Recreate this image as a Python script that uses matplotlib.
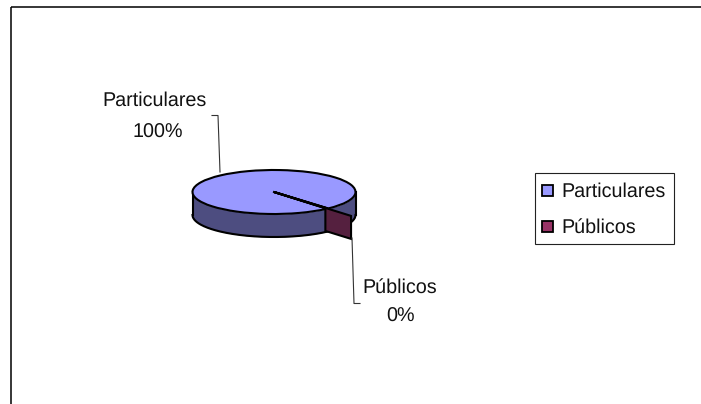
import numpy as np
import matplotlib
matplotlib.use("Agg")
import matplotlib.pyplot as plt
from matplotlib.patches import Rectangle, Polygon

categories = ["Particulares", "Públicos"]
values = [99.7, 0.3]
pct_labels = ["100%", "0%"]
colors = ["#9999FF", "#993366"]
side_color = "#4D4D80"
wall_color = "#55203F"
ink = "#000000"

W, H = 701, 404
plt.rcParams["font.family"] = ["Liberation Sans", "DejaVu Sans"]
plt.rcParams["text.hinting"] = "none"
fig = plt.figure(figsize=(W / 100, H / 100), dpi=100, facecolor="white")
FS = 14.2

# overlay in pixel coordinates for frame, legend and labels
ov = fig.add_axes([0, 0, 1, 1], zorder=3)
ov.set_xlim(0, W); ov.set_ylim(H, 0); ov.axis("off"); ov.patch.set_alpha(0)

# pie axes: one data unit = pie radius on screen
cx, cy, rx, ry, depth = 274.0, 192.0, 81.5, 22.0, 23.0
ax = fig.add_axes([0, 0, 1, 1], zorder=2)
start = -49.5
wedges, _ = ax.pie(values, colors=colors, startangle=start, counterclock=False,
                   radius=1.0, center=(0, 0), frame=True,
                   wedgeprops=dict(edgecolor=ink, linewidth=1.5))
ax.set_aspect("auto")
ax.set_xlim(-cx / rx, (W - cx) / rx)
ax.set_ylim((cy - H) / ry, cy / ry)
ax.axis("off")
ax.patch.set_alpha(0)
d = depth / ry

# side band of the disc, from the left rim round the front to the right rim
th = np.radians(np.linspace(180, 360, 200))
xs, ys = np.cos(th), np.sin(th)
ax.fill_between(xs, ys - d, ys, color=side_color, zorder=0.5, lw=0)
ax.plot(xs, ys - d, color=ink, lw=1.5, zorder=0.6)
ax.plot([-1, -1], [0, -d], color=ink, lw=1.5, zorder=0.6)
ax.plot([1, 1], [0, -d], color=ink, lw=1.5, zorder=0.6)

# cut wall of the thin slice, following the slice's own angle
a = np.radians(start + 360 * values[1] / sum(values) / 2)
ux, uy = np.cos(a), np.sin(a)
r0, r1 = 0.96, 1.44
ax.add_patch(Polygon([(r0 * ux, r0 * uy), (r1 * ux, r1 * uy),
                      (r1 * ux, r1 * uy - d), (r0 * ux, r0 * uy - d)],
                     closed=True, facecolor=wall_color, edgecolor=ink, lw=1.5, zorder=4))
ax.plot([0, r0 * ux], [0, r0 * uy], color=ink, lw=1.5, zorder=4)

# chart frame: top and left edges reach the picture's border
ov.plot([10.5, W], [6.5, 6.5], color=ink, lw=1.1, solid_capstyle="butt")
ov.plot([10.5, 10.5], [6.5, H], color=ink, lw=1.1, solid_capstyle="butt")

# data labels with leader lines
ov.text(155, 101, categories[0], ha="center", va="center", fontsize=FS, color="#111111")
ov.text(158, 133, pct_labels[0], ha="center", va="center", fontsize=FS, color="#111111")
ov.plot([212, 218, 220], [115.5, 115.5, 172], color="#333333", lw=0.8)
ov.text(400, 288, categories[1], ha="center", va="center", fontsize=FS, color="#111111")
ov.text(401, 317, pct_labels[1], ha="center", va="center", fontsize=FS, color="#111111")
ov.plot([352, 354, 360], [238, 303.5, 303.5], color="#333333", lw=0.8)

# legend
ov.add_patch(Rectangle((535, 172.5), 139, 71, facecolor="white", edgecolor="#222222", lw=0.8))
for i, (name, col) in enumerate(zip(categories, colors)):
    y = 190.5 + 36 * i
    ov.add_patch(Rectangle((542, y - 5.5), 11, 11, facecolor=col, edgecolor=ink, lw=1.3))
    ov.text(561.5, y + 1, name, ha="left", va="center", fontsize=FS, color="#111111")

fig.savefig("out.png", dpi=100)
